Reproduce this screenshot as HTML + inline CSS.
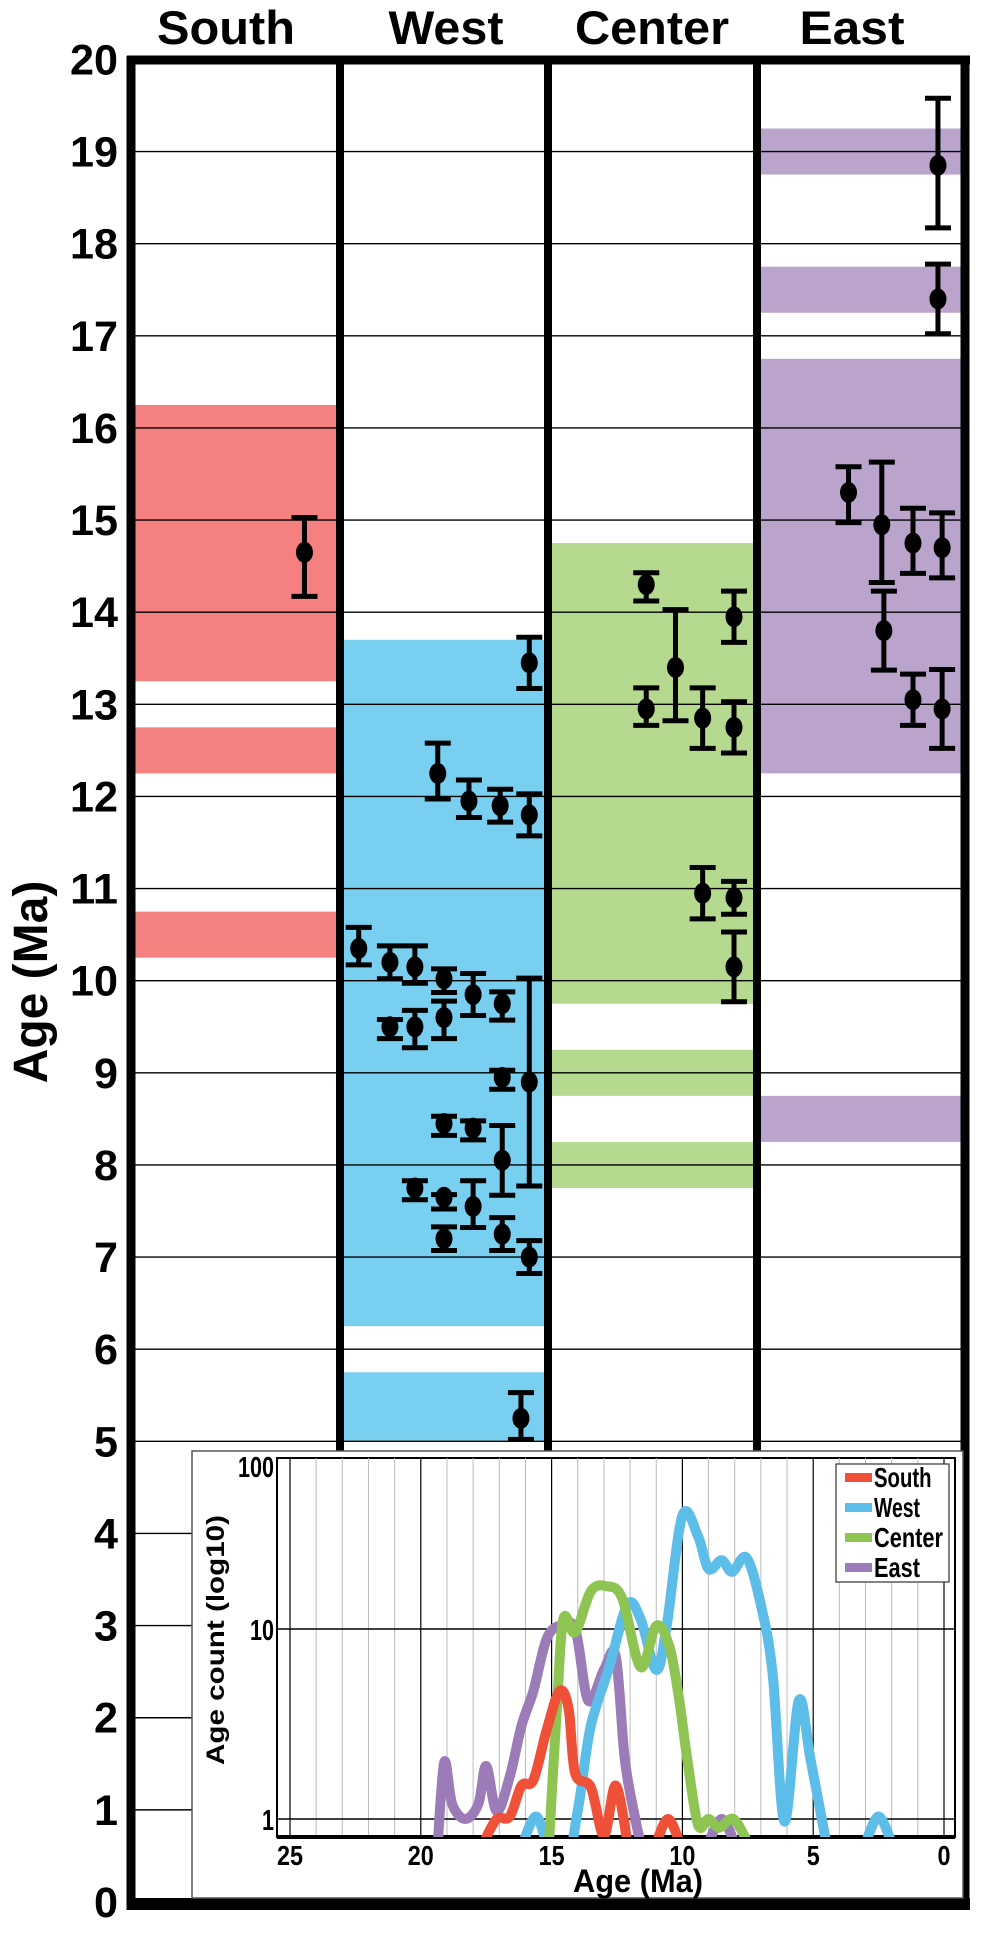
<!DOCTYPE html>
<html><head><meta charset="utf-8"><style>
html,body{margin:0;padding:0;background:#fff}
svg{display:block}
text{font-family:"Liberation Sans",sans-serif;font-weight:bold}
</style></head><body>
<svg id="chart" width="985" height="1937" viewBox="0 0 985 1937" xmlns="http://www.w3.org/2000/svg">
<g id="bands"></g>
<g id="grid"></g>
<g id="points"></g>
<g id="frame"></g>
<g id="labels"></g>
<g id="inset"></g>
</svg>
<script>
const NS="http://www.w3.org/2000/svg";
// ---- data ----
const regions=["South","West","Center","East"];
const yTicks=[0,1,2,3,4,5,6,7,8,9,10,11,12,13,14,15,16,17,18,19,20];
const bandRegion=[0,0,0,1,1,2,2,2,3,3,3,3];
const bandTop=[16.25,12.75,10.75,13.7,5.75,14.75,9.25,8.25,19.25,17.75,16.75,8.75];
const bandBottom=[13.25,12.25,10.25,6.25,5.0,9.75,8.75,7.75,18.75,17.25,12.25,8.25];
const ptRegion=[0,1,1,1,1,1,1,1,1,1,1,1,1,1,1,1,1,1,1,1,1,1,1,1,1,1,1,2,2,2,2,2,2,2,2,2,3,3,3,3,3,3,3,3,3];
const ptSlot=[0.83,0.91,0.47,0.62,0.77,0.91,0.09,0.24,0.36,0.5,0.64,0.78,0.24,0.36,0.5,0.78,0.91,0.5,0.64,0.78,0.36,0.5,0.64,0.5,0.78,0.91,0.87,0.47,0.61,0.89,0.47,0.74,0.89,0.74,0.89,0.89,0.87,0.87,0.44,0.6,0.75,0.89,0.61,0.75,0.89];
const ptAge=[14.65,13.45,12.25,11.95,11.9,11.8,10.35,10.2,10.15,10.02,9.85,9.75,9.5,9.5,9.6,8.95,8.9,8.45,8.4,8.05,7.75,7.65,7.55,7.2,7.25,7.0,5.25,14.3,13.4,13.95,12.95,12.85,12.75,10.95,10.9,10.15,18.85,17.4,15.3,14.95,14.75,14.7,13.8,13.05,12.95];
const ptHi=[15.05,13.75,12.6,12.2,12.1,12.05,10.6,10.4,10.4,10.15,10.1,9.9,9.6,9.7,9.8,9.05,10.05,8.55,8.5,8.45,7.85,7.7,7.85,7.35,7.45,7.2,5.55,14.45,14.05,14.25,13.2,13.2,13.05,11.25,11.1,10.55,19.6,17.8,15.6,15.65,15.15,15.1,14.25,13.35,13.4];
const ptLo=[14.15,13.15,11.95,11.75,11.7,11.55,10.15,10.0,9.95,9.85,9.6,9.55,9.35,9.25,9.35,8.8,7.75,8.3,8.25,7.65,7.6,7.5,7.3,7.05,7.05,6.8,5.0,14.1,12.8,13.65,12.75,12.5,12.45,10.65,10.7,9.75,18.15,17.0,14.95,14.3,14.4,14.35,13.35,12.75,12.5];
// inset data
const xTickLabels=[25,20,15,10,5,0];
const yTickLabels=[100,10,1];
const seriesNames=["South","West","Center","East"];
const southAge=[17.6,17.1,16.6,16.15,15.7,15.2,14.7,14.35,14.1,13.5,13.0,12.55,12.1];
const southCnt=[0.75,1.0,1.03,1.5,1.6,2.9,4.7,3.8,1.74,1.47,0.82,1.5,0.75];
const south2Age=[11.0,10.55,10.1];
const south2Cnt=[0.75,1.0,0.75];
const westAge=[14.2,13.9,13.5,12.8,12.1,11.6,11.0,10.6,10.0,9.4,9.0,8.5,8.1,7.55,7.0,6.55,6.1,5.55,5.1,4.5];
const westCnt=[0.75,1.35,3.1,6.3,13.4,11.3,6.1,10.4,39.6,30.7,20.7,23,20,23.7,13.4,5.8,0.97,4.2,2.05,0.75];
const west2Age=[16.1,15.6,15.2];
const west2Cnt=[0.75,1.03,0.75];
const west3Age=[3.0,2.5,2.0];
const west3Cnt=[0.75,1.03,0.75];
const centerAge=[15.1,14.8,14.55,14.1,13.5,12.9,12.3,11.6,11.0,10.5,10.15,9.8,9.4,9.0,8.6,8.05,7.5];
const centerCnt=[0.75,3.8,11.3,9.6,15.8,16.8,14.5,6.3,10.4,8.1,4.5,2.0,0.93,1.0,0.9,1.0,0.75];
const eastAge=[19.35,19.1,18.8,18.3,17.8,17.5,17.1,16.6,16.15,15.7,15.2,14.7,14.1,13.6,13.0,12.55,12.2,11.8,11.6];
const eastCnt=[0.75,2.0,1.2,1.0,1.2,1.9,1.1,1.67,3.1,4.7,8.8,10.4,10,4.2,6.1,7.2,2.05,1.0,0.75];
const east2Age=[9.0,8.5,8.0];
const east2Cnt=[0.75,1.0,0.75];

// ---- helpers ----
function el(tag,attrs,parent){const e=document.createElementNS(NS,tag);for(const k in attrs)e.setAttribute(k,attrs[k]);parent.appendChild(e);return e;}
const Y0=1902, PX=92.13;
function yAge(v){return Y0-PX*v;}
const colEdges=[131,340,548,757,965];
function xSlot(r,s){return colEdges[r]+s*(colEdges[r+1]-colEdges[r]);}
const regionColors=["#f48080","#78cff0","#b4d98f","#bba4cc"];

// bands
const gB=document.getElementById('bands');
for(let i=0;i<bandTop.length;i++){
  const r=bandRegion[i];
  const b=el('rect',{x:colEdges[r],y:yAge(bandTop[i]),width:colEdges[r+1]-colEdges[r],height:yAge(bandBottom[i])-yAge(bandTop[i]),fill:regionColors[r]},gB);
  
  
}
// grid
const gG=document.getElementById('grid');
yTicks.forEach(v=>{
  if(v===0||v===20)return;
  const x2=v<5?192:965;
  const l=el('line',{x1:131,x2:x2,y1:yAge(v),y2:yAge(v),stroke:'#000','stroke-width':1.4},gG);
  
  
});
// points
const gP=document.getElementById('points');
for(let i=0;i<ptAge.length;i++){
  const x=xSlot(ptRegion[i],ptSlot[i]);
  const g=el('g',{},gP);
  
  
  const yh=yAge(ptHi[i]),yl=yAge(ptLo[i]);
  el('line',{x1:x,x2:x,y1:yh,y2:yl,stroke:'#000','stroke-width':5},g);
  el('line',{x1:x-13,x2:x+13,y1:yh+2,y2:yh+2,stroke:'#000','stroke-width':5},g);
  el('line',{x1:x-13,x2:x+13,y1:yl-2,y2:yl-2,stroke:'#000','stroke-width':5},g);
  el('ellipse',{cx:x,cy:yAge(ptAge[i]),rx:8.5,ry:10.5,fill:'#000'},g);
}
// frame
const gF=document.getElementById('frame');
[340,548,757].forEach((x,i)=>{
  const l=el('line',{x1:x,x2:x,y1:60,y2:1451,stroke:'#000','stroke-width':8},gF);
  
  
});
el('line',{x1:131,x2:131,y1:56,y2:1910,stroke:'#000','stroke-width':9},gF);
el('line',{x1:965,x2:965,y1:56,y2:1910,stroke:'#000','stroke-width':9},gF);
el('line',{x1:127,x2:970,y1:60,y2:60,stroke:'#000','stroke-width':9},gF);
el('line',{x1:127,x2:970,y1:1904,y2:1904,stroke:'#000','stroke-width':12},gF);
// labels
const gL=document.getElementById('labels');
const headX=[226,446,652,852], headW=[138,115,154,105];
regions.forEach((r,i)=>{
  const t=el('text',{x:headX[i],y:44,'text-anchor':'middle','font-size':47,textLength:headW[i],lengthAdjust:'spacingAndGlyphs'},gL);
  t.textContent=r;
  
  
});
yTicks.forEach(v=>{
  const s=String(v);
  const w=s.length*24;
  const t=el('text',{x:118-w,y:yAge(v)+15,'font-size':43,textLength:w,lengthAdjust:'spacingAndGlyphs'},gL);
  t.textContent=s;
  
  
});
const yt=el('text',{x:0,y:0,'font-size':48,'text-anchor':'middle',transform:'translate(47,982) rotate(-90)'},gL);
yt.textContent='Age (Ma)';



// ---- inset ----
const gI=document.getElementById('inset');
el('rect',{x:192,y:1451,width:771,height:447,fill:'#fff',stroke:'#555','stroke-width':1.5},gI);
const PL=277,PR=955,PT=1458,PB=1837;
function xA(a){return 290+(25-a)*(944-290)/25;}
function yC(c){return 1629-190*Math.log10(c/10);}
el('rect',{x:PL,y:PT,width:PR-PL,height:PB-PT,fill:'#fff',stroke:'#000','stroke-width':2},gI);
const clip=el('clipPath',{id:'pc'},gI);
el('rect',{x:PL,y:PT,width:PR-PL,height:PB-PT},clip);
for(let a=0;a<=25;a++){
  const major=a%5===0;
  const l=el('line',{x1:xA(a),x2:xA(a),y1:PT,y2:PB,stroke:major?'#000':'#bbb','stroke-width':major?1.2:1},gI);
  
  
}
yTickLabels.forEach(c=>{
  if(yC(c)>PT){const l=el('line',{x1:PL,x2:PR,y1:yC(c),y2:yC(c),stroke:'#000','stroke-width':1.5},gI);
  
  }
  const s=String(c);
  const t=el('text',{x:274,y:Math.max(yC(c),1466)+11,'text-anchor':'end','font-size':29,'font-weight':'normal',textLength:s.length*12,lengthAdjust:'spacingAndGlyphs'},gI);
  t.textContent=s;
  
  
});
el('line',{x1:PL,x2:PR,y1:PB,y2:PB,stroke:'#000','stroke-width':4},gI);
xTickLabels.forEach(a=>{
  const s=String(a);
  const t=el('text',{x:xA(a),y:1865,'text-anchor':'middle','font-size':28,textLength:s.length*13,lengthAdjust:'spacingAndGlyphs'},gI);
  t.textContent=s;
  
  
});
const xl=el('text',{x:638,y:1892,'text-anchor':'middle','font-size':32,textLength:130,lengthAdjust:'spacingAndGlyphs'},gI);
xl.textContent='Age (Ma)';


const il=el('text',{x:0,y:0,'font-size':25,'text-anchor':'middle',transform:'translate(224,1640) rotate(-90)',textLength:250,lengthAdjust:'spacingAndGlyphs'},gI);
il.textContent='Age count (log10)';



function smooth(ages,cnts){
  const p=ages.map((a,i)=>[xA(a),yC(cnts[i])]);
  let d='M'+p[0][0]+','+p[0][1];
  for(let i=0;i<p.length-1;i++){
    const p0=p[i-1]||p[i],p1=p[i],p2=p[i+1],p3=p[i+2]||p2;
    const c1=[p1[0]+(p2[0]-p0[0])/6,p1[1]+(p2[1]-p0[1])/6];
    const c2=[p2[0]-(p3[0]-p1[0])/6,p2[1]-(p3[1]-p1[1])/6];
    d+=' C'+c1+' '+c2+' '+p2;
  }
  return d;
}
const lineColors=["#ef5038","#5bbde8","#8dc452","#9b7bb8"];
const seriesSegs=[[[southAge,southCnt],[south2Age,south2Cnt]],[[westAge,westCnt],[west2Age,west2Cnt],[west3Age,west3Cnt]],[[centerAge,centerCnt]],[[eastAge,eastCnt],[east2Age,east2Cnt]]];
const drawOrder=[3,1,2,0];
drawOrder.forEach(si=>{
  seriesSegs[si].forEach(seg=>{
    const p=el('path',{d:smooth(seg[0],seg[1]),fill:'none',stroke:lineColors[si],'stroke-width':10,'stroke-linejoin':'round','clip-path':'url(#pc)'},gI);
    
    
  });
});
// legend
const lg=el('g',{},gI);


el('rect',{x:836,y:1464,width:113,height:118,fill:'#fff',stroke:'#333','stroke-width':1.2},lg);
seriesNames.forEach((n,i)=>{
  const y=1477+i*30;
  const g=el('g',{},lg);
  
  
  el('rect',{x:845,y:y-4,width:27,height:9,fill:lineColors[i]},g);
  const t=el('text',{x:874,y:y+10,'font-size':28,'font-weight':'normal',textLength:n.length*11.5,lengthAdjust:'spacingAndGlyphs'},g);
  t.textContent=n;
});
</script>
</body></html>
